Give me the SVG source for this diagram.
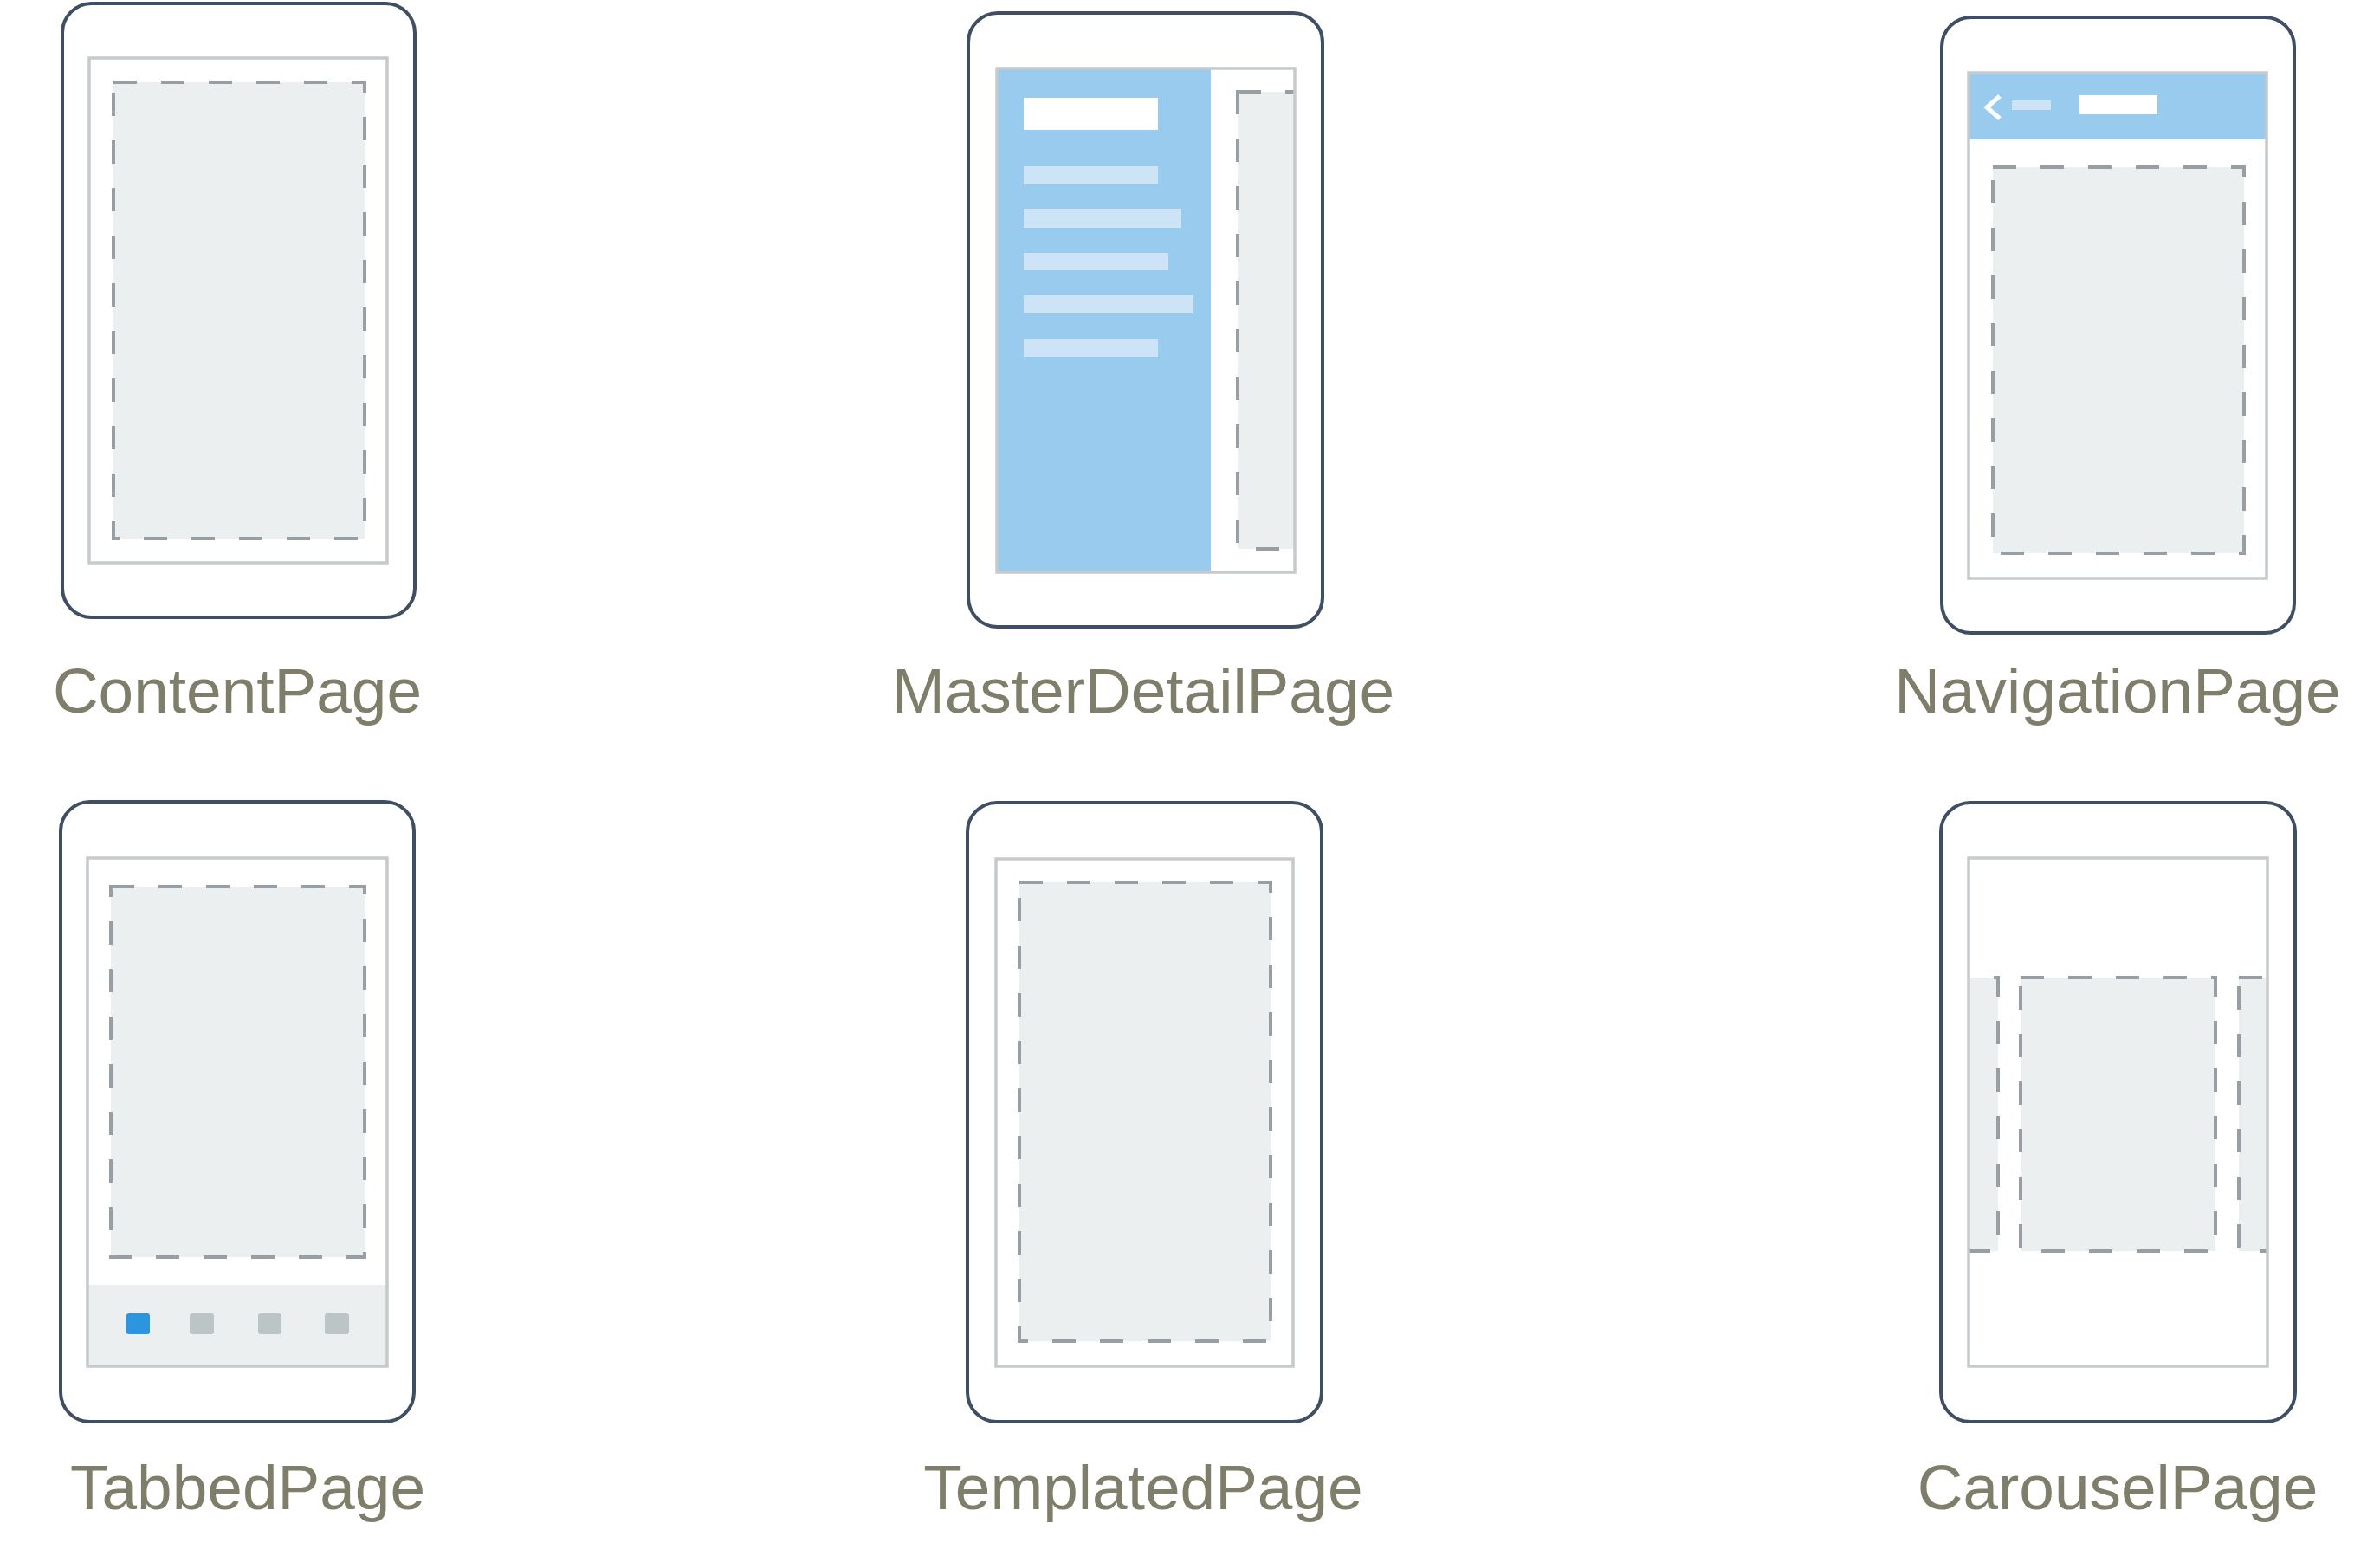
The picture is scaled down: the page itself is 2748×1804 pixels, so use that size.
<svg xmlns="http://www.w3.org/2000/svg" width="2748" height="1804" viewBox="0 0 2748 1804">
<style>
.phone{fill:#ffffff;stroke:#3f4e62;stroke-width:4}
.screen{fill:none;stroke:#c6cacd;stroke-width:3.5}
.dash{fill:#ebeff0;stroke:#979ea4;stroke-width:4;stroke-dasharray:27 28}
.blue{fill:#99cbee}
.lbar{fill:#cde4f6}
.wbar{fill:#ffffff}
.label{font-family:"Liberation Sans",Arial,sans-serif;font-size:73px;fill:#7f7e6a;text-anchor:middle}
</style>
<defs>
<clipPath id="clipMD"><rect x="1151" y="79" width="344" height="582"/></clipPath>
<clipPath id="clipCar"><rect x="2273" y="991" width="345" height="587"/></clipPath>
</defs>
<rect width="2748" height="1804" fill="#ffffff"/>

<g id="contentpage">
<rect class="phone" x="72" y="4" width="407" height="709" rx="34"/>
<rect class="screen" x="103" y="67" width="344" height="583"/>
<rect class="dash" x="131" y="95" width="290" height="527"/>
<text class="label" x="274" y="823">ContentPage</text>
</g>

<g id="masterdetailpage">
<rect class="phone" x="1118" y="15" width="409" height="709" rx="34"/>
<rect class="blue" x="1151" y="79" width="247" height="582"/>
<g clip-path="url(#clipMD)">
<rect class="dash" x="1429" y="106" width="200" height="528"/>
</g>
<rect class="wbar" x="1182" y="113" width="155" height="37"/>
<rect class="lbar" x="1182" y="192" width="155" height="21"/>
<rect class="lbar" x="1182" y="241" width="182" height="22"/>
<rect class="lbar" x="1182" y="292" width="167" height="20"/>
<rect class="lbar" x="1182" y="341" width="196" height="21"/>
<rect class="lbar" x="1182" y="392" width="155" height="20"/>
<rect class="screen" x="1151" y="79" width="344" height="582"/>
<text class="label" x="1320" y="823">MasterDetailPage</text>
</g>

<g id="navigationpage">
<rect class="phone" x="2242" y="20" width="407" height="711" rx="34"/>
<rect class="blue" x="2273" y="84" width="344" height="77"/>
<polyline points="2309,111 2294,124 2309,137" fill="none" stroke="#ffffff" stroke-width="5"/>
<rect class="lbar" x="2323" y="116" width="45" height="11"/>
<rect class="wbar" x="2400" y="110" width="91" height="22"/>
<rect class="dash" x="2301" y="193" width="290" height="446"/>
<rect class="screen" x="2273" y="84" width="344" height="584"/>
<text class="label" x="2445" y="823">NavigationPage</text>
</g>

<g id="tabbedpage">
<rect class="phone" x="70" y="926" width="408" height="716" rx="34"/>
<rect x="101" y="1484" width="346" height="94" fill="#ebeff0"/>
<rect class="dash" x="128" y="1024" width="293" height="428"/>
<rect x="146" y="1517" width="27" height="24" rx="3" fill="#2b95e0"/>
<rect x="219" y="1517" width="28" height="24" rx="3" fill="#bcc5c6"/>
<rect x="298" y="1517" width="27" height="24" rx="3" fill="#bcc5c6"/>
<rect x="375" y="1517" width="28" height="24" rx="3" fill="#bcc5c6"/>
<rect class="screen" x="101" y="991" width="346" height="587"/>
<text class="label" x="286" y="1743">TabbedPage</text>
</g>

<g id="templatedpage">
<rect class="phone" x="1117" y="927" width="409" height="715" rx="34"/>
<rect class="screen" x="1150" y="992" width="343" height="586"/>
<rect class="dash" x="1177" y="1019" width="290" height="530"/>
<text class="label" x="1320" y="1743">TemplatedPage</text>
</g>

<g id="carouselpage">
<rect class="phone" x="2241" y="927" width="409" height="715" rx="34"/>
<g clip-path="url(#clipCar)">
<rect class="dash" x="2082" y="1129" width="225" height="316"/>
<rect class="dash" x="2333" y="1129" width="225" height="316"/>
<rect class="dash" x="2585" y="1129" width="225" height="316"/>
</g>
<rect class="screen" x="2273" y="991" width="345" height="587"/>
<text class="label" x="2445" y="1743">CarouselPage</text>
</g>

<g id="connectors"></g>
</svg>
